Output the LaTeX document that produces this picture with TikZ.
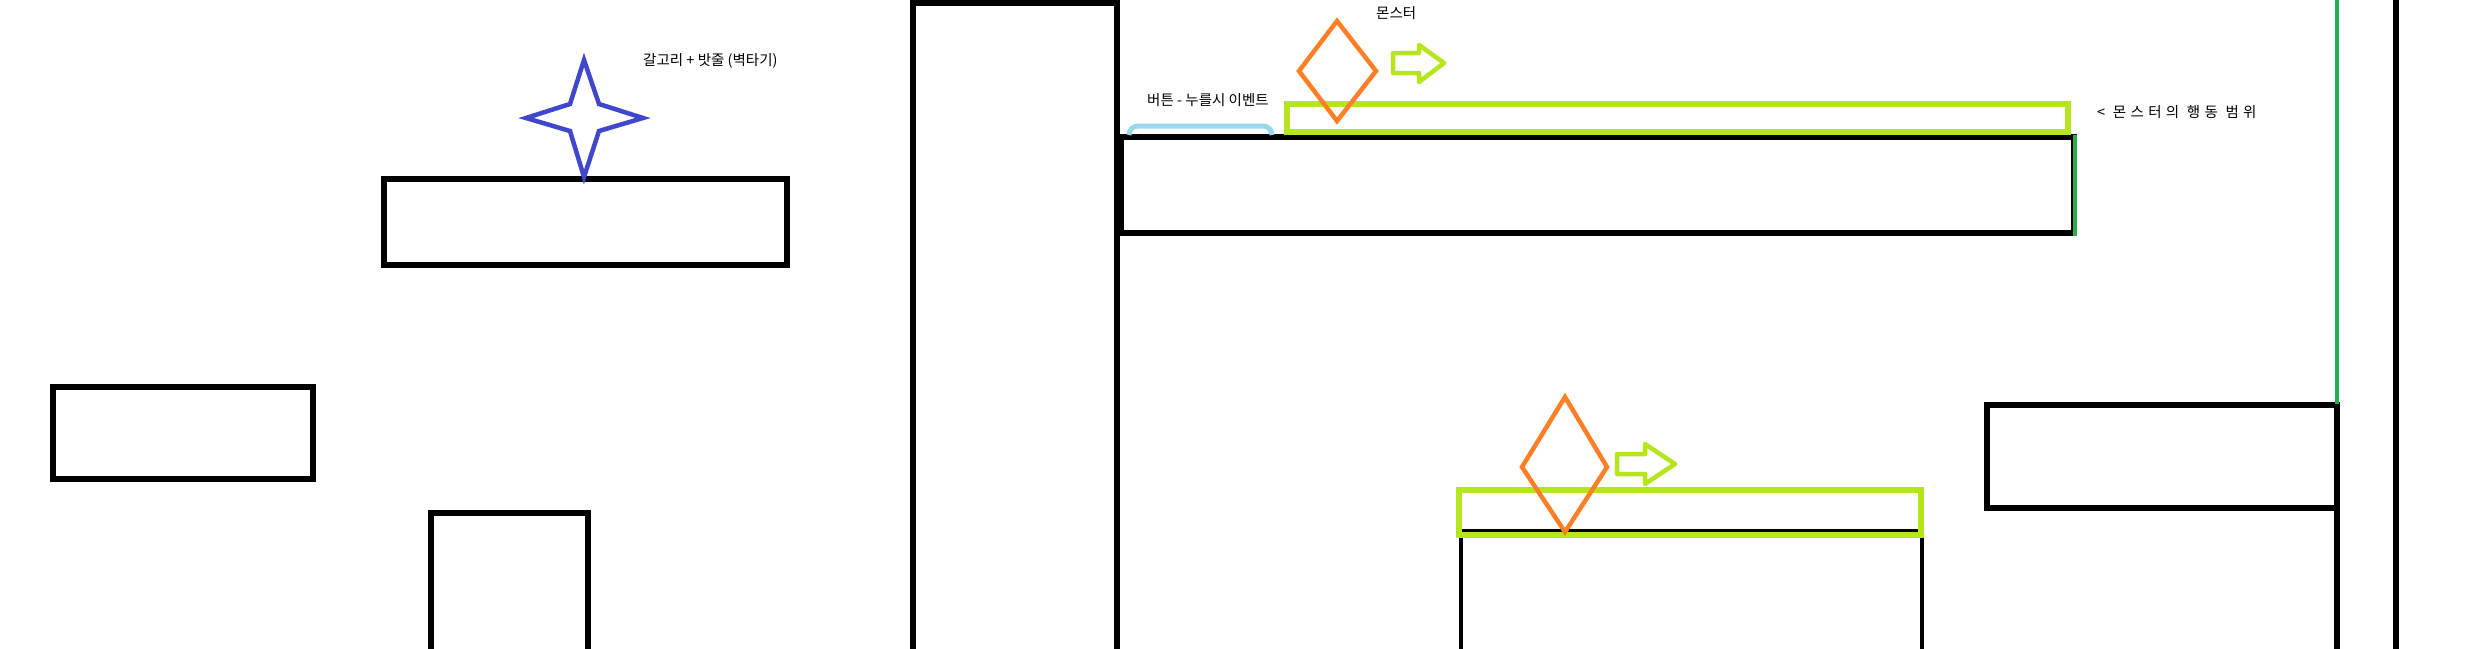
\documentclass[tikz,border=0pt]{standalone}
\usepackage{fontspec}
\newfontfamily\kr{Noto Sans CJK KR}
\definecolor{wallblack}{RGB}{0,0,0}
\definecolor{starblue}{RGB}{63,72,204}
\definecolor{rangeyellow}{RGB}{181,230,29}
\definecolor{monorange}{RGB}{255,127,39}
\definecolor{btnblue}{RGB}{153,217,234}
\definecolor{edgegreen}{RGB}{34,177,76}
\tikzset{
  wall/.style={draw=wallblack, line width=5.5pt, line join=miter},
  thinwall/.style={draw=wallblack, line width=3.5pt},
  rangebox/.style={draw=rangeyellow, line width=5.5pt, line join=miter},
  monster/.style={draw=monorange, line width=4.5pt, line join=miter},
  movearrow/.style={draw=rangeyellow, line width=4.5pt, line join=round},
  hook/.style={draw=starblue, line width=4.5pt, line join=miter},
  button/.style={draw=btnblue, line width=5pt, rounded corners=9pt},
  greenedge/.style={draw=edgegreen, line width=4.5pt},
  lbl/.style={font=\kr\fontsize{14.5pt}{17pt}\selectfont, text=black, inner sep=0pt},
}
\begin{document}
\begin{tikzpicture}[x=1pt,y=-1pt]
\useasboundingbox[fill=white] (0,0) rectangle (2472,648);

% left platforms
\draw[wall] (384,179) rectangle (787,265);
\draw[wall] (53,387) rectangle (313,479);
\draw[wall] (431,652) -- (431,513) -- (588,513) -- (588,652);

% hook star
\draw[hook] (584,60) -- (599,104) -- (643,118) -- (599,131) -- (584,177)
  -- (570,131) -- (526,118) -- (570,104) -- cycle;
\node[lbl, anchor=west] (hooktxt) at (643,61) {갈고리 + 밧줄 (벽타기)};

% tall wall
\draw[wall] (913,652) -- (913,3) -- (1117,3) -- (1117,652);

% upper long platform
\draw[wall] (1121,137) rectangle (2074,233);
\draw[greenedge] (2075,135) -- (2075,236);

% button
\draw[button] (1129,135) -- (1129,126) -- (1272,126) -- (1272,135);
\node[lbl, anchor=west] (btntxt) at (1147,100) {버튼 - 누를시 이벤트};

% upper monster range
\draw[rangebox] (1287,104) rectangle (2068,132);
\draw[monster] (1337,21) -- (1376,71) -- (1337,121) -- (1299,71) -- cycle;
\draw[movearrow] (1393,53) -- (1419,53) -- (1419,45) -- (1444,63) -- (1419,82)
  -- (1419,73) -- (1393,73) -- cycle;
\node[lbl, anchor=west] (montxt) at (1376,13) {몬스터};
\node[lbl, anchor=west] (rangetxt) at (2097,112)
  {\addfontfeature{LetterSpace=30}< 몬스터의 행동 범위};

% lower platform
\draw[thinwall] (1461,652) -- (1461,531) -- (1922,531) -- (1922,652);
\draw[rangebox] (1459,490) rectangle (1921,535);
\draw[monster] (1565,397) -- (1607,467) -- (1565,532) -- (1522,467) -- cycle;
\draw[movearrow] (1617,454) -- (1645,454) -- (1645,444) -- (1675,464) -- (1645,484)
  -- (1645,474) -- (1617,474) -- cycle;

% right block and walls
\draw[wall] (1987,405) rectangle (2337,508);
\draw[wall] (2337,405) -- (2337,652);
\draw[greenedge] (2337,0) -- (2337,404);
\draw[wall] (2396,-4) -- (2396,652);
\end{tikzpicture}
\end{document}
